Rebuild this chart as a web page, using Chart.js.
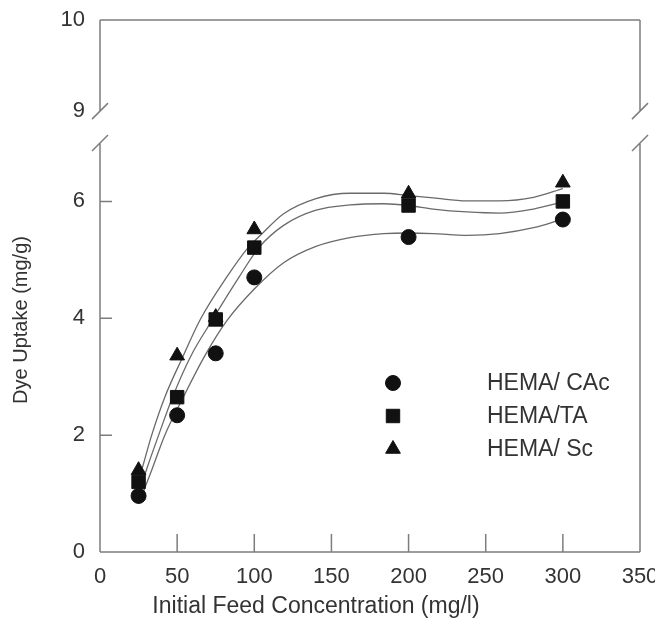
<!DOCTYPE html>
<html>
<head>
<meta charset="utf-8">
<script src="https://cdn.jsdelivr.net/npm/chart.js@4"></script>
<style>
  html, body { margin: 0; padding: 0; background: #fff; }
  #wrap { width: 655px; height: 622px; }
</style>
</head>
<body>
<div id="wrap"><canvas id="chart"></canvas></div>
<script>
// measured points
const concentrations = [25, 50, 75, 100, 200, 300];
const uptakeCAc = [0.96, 2.34, 3.40, 4.70, 5.39, 5.69];
const uptakeTA = [1.20, 2.65, 3.98, 5.21, 5.93, 6.00];
const uptakeSc = [1.40, 3.36, 4.02, 5.52, 6.13, 6.32];

// fitted curves
const fitScX = [25, 27, 33.5, 42, 54, 65, 82, 96, 104, 119, 140, 162, 184, 200, 216, 238, 259, 281, 300];
const fitScY = [1.22, 1.40, 2.00, 2.65, 3.36, 3.98, 4.70, 5.21, 5.42, 5.79, 6.05, 6.14, 6.14, 6.10, 6.06, 6.01, 6.01, 6.07, 6.22];
const fitTAX = [25, 30, 38, 47, 59, 73, 90, 103, 119, 140, 162, 184, 200, 216, 238, 259, 281, 300];
const fitTAY = [1.00, 1.40, 2.00, 2.65, 3.36, 3.98, 4.70, 5.21, 5.59, 5.85, 5.94, 5.96, 5.93, 5.87, 5.82, 5.80, 5.87, 5.99];
const fitCAcX = [25, 33.5, 42, 54, 68, 82, 100, 119, 140, 162, 184, 200, 216, 238, 259, 281, 300];
const fitCAcY = [0.82, 1.40, 2.00, 2.65, 3.36, 3.95, 4.50, 4.95, 5.23, 5.38, 5.45, 5.46, 5.45, 5.42, 5.45, 5.55, 5.70];

const xTicks = [0, 50, 100, 150, 200, 250, 300, 350];
const yLowTicks = [0, 2, 4, 6];
const yHighTicks = [9, 10];

const seriesNames = ['HEMA/ CAc', 'HEMA/TA', 'HEMA/ Sc'];

const FONT = '"Liberation Sans", Arial, sans-serif';
const TEXT = '#333';
const AXIS = '#7d7d7d';

const toXY = (xs, ys) => xs.map((x, i) => ({ x: x, y: ys[i] }));

function fitLine(xs, ys) {
  return {
    type: 'line',
    data: toXY(xs, ys),
    borderColor: '#6a6a6a',
    borderWidth: 1.3,
    pointRadius: 0,
    fill: false,
    cubicInterpolationMode: 'monotone',
    yAxisID: 'y',
    order: 2
  };
}

function marks(label, ys, style, radius) {
  return {
    type: 'scatter',
    label: label,
    data: toXY(concentrations, ys),
    pointStyle: style,
    pointRadius: radius,
    pointBackgroundColor: '#111',
    pointBorderColor: '#111',
    pointBorderWidth: 1,
    yAxisID: 'y',
    order: 1
  };
}

// frame with broken y axis, inward ticks, titles and legend
const decor = {
  id: 'decor',
  afterDraw(chart) {
    const ctx = chart.ctx;
    const a = chart.chartArea;
    const sx = chart.scales.x, sy = chart.scales.y, sTop = chart.scales.yTop;
    const yBreakHi = sTop.getPixelForValue(9);
    const yBreakLo = sy.getPixelForValue(7);

    ctx.save();
    ctx.strokeStyle = AXIS;
    ctx.lineWidth = 1.5;
    ctx.beginPath();
    // top and bottom
    ctx.moveTo(a.left, a.top); ctx.lineTo(a.right, a.top);
    ctx.moveTo(a.left, a.bottom); ctx.lineTo(a.right, a.bottom);
    [a.left, a.right].forEach(x => {
      ctx.moveTo(x, a.top); ctx.lineTo(x, yBreakHi);
      ctx.moveTo(x, yBreakLo); ctx.lineTo(x, a.bottom);
      [yBreakHi, yBreakLo].forEach(y => {
        ctx.moveTo(x - 8, y + 8); ctx.lineTo(x + 8, y - 8);
      });
    });
    // inward ticks
    xTicks.forEach(v => {
      if (v === 0 || v === 350) return;
      const px = sx.getPixelForValue(v);
      ctx.moveTo(px, a.bottom); ctx.lineTo(px, a.bottom - 18);
    });
    yLowTicks.forEach(v => {
      if (v === 0) return;
      const py = sy.getPixelForValue(v);
      ctx.moveTo(a.left, py); ctx.lineTo(a.left + 12, py);
    });
    ctx.stroke();

    // titles
    ctx.fillStyle = TEXT;
    ctx.font = '23px ' + FONT;
    ctx.textAlign = 'center';
    ctx.textBaseline = 'middle';
    ctx.fillText('Initial Feed Concentration (mg/l)', 316, 607);
    ctx.font = '20px ' + FONT;
    ctx.translate(21, 320);
    ctx.rotate(-Math.PI / 2);
    ctx.fillText('Dye Uptake (mg/g)', 0, 0);
    ctx.restore();

    // legend inside the plot
    ctx.save();
    const markerSets = chart.data.datasets.filter(d => d.type === 'scatter');
    markerSets.forEach((d, i) => {
      const y = 383 + i * 33;
      ctx.fillStyle = '#111';
      ctx.strokeStyle = '#111';
      Chart.helpers.drawPoint(ctx, { pointStyle: d.pointStyle, radius: d.pointRadius, rotation: 0, borderWidth: 1 }, 393, y);
      ctx.fillStyle = TEXT;
      ctx.font = '23px ' + FONT;
      ctx.textAlign = 'left';
      ctx.textBaseline = 'middle';
      ctx.fillText(d.label, 487, y + 1);
    });
    ctx.restore();
  }
};

const tickFont = { family: FONT, size: 22 };

function fitY(s) {
  s.width = 100;
  s.paddingTop = 0;
  s.paddingBottom = 0;
}

new Chart(document.getElementById('chart'), {
  data: {
    datasets: [
      fitLine(fitCAcX, fitCAcY),
      fitLine(fitTAX, fitTAY),
      fitLine(fitScX, fitScY),
      marks(seriesNames[0], uptakeCAc, 'circle', 7.5),
      marks(seriesNames[1], uptakeTA, 'rect', 9.5),
      marks(seriesNames[2], uptakeSc, 'triangle', 8.5)
    ]
  },
  options: {
    responsive: true,
    maintainAspectRatio: false,
    animation: false,
    layout: { padding: { left: 0, right: 15, top: 20, bottom: 0 }, autoPadding: false },
    plugins: { legend: { display: false }, tooltip: { enabled: false } },
    scales: {
      x: {
        type: 'linear',
        min: 0, max: 350,
        afterBuildTicks: s => { s.ticks = xTicks.map(v => ({ value: v })); },
        afterFit: s => { s.height = 70; s.paddingLeft = 0; s.paddingRight = 0; },
        grid: { display: false, drawTicks: false },
        border: { display: false },
        ticks: { color: TEXT, font: tickFont, padding: 12, maxRotation: 0, autoSkip: false }
      },
      y: {
        type: 'linear',
        position: 'left',
        stack: 'yb',
        stackWeight: 409,
        min: 0, max: 7,
        afterBuildTicks: s => { s.ticks = yLowTicks.map(v => ({ value: v })); },
        afterFit: fitY,
        grid: { display: false, drawTicks: false },
        border: { display: false },
        ticks: { color: TEXT, font: tickFont, padding: 15 }
      },
      yTop: {
        type: 'linear',
        position: 'left',
        stack: 'yb',
        stackWeight: 123,
        min: 8.65, max: 10,
        afterBuildTicks: s => { s.ticks = yHighTicks.map(v => ({ value: v })); },
        afterFit: fitY,
        grid: { display: false, drawTicks: false },
        border: { display: false },
        ticks: { color: TEXT, font: tickFont, padding: 15 }
      }
    }
  },
  plugins: [decor]
});
</script>
</body>
</html>
